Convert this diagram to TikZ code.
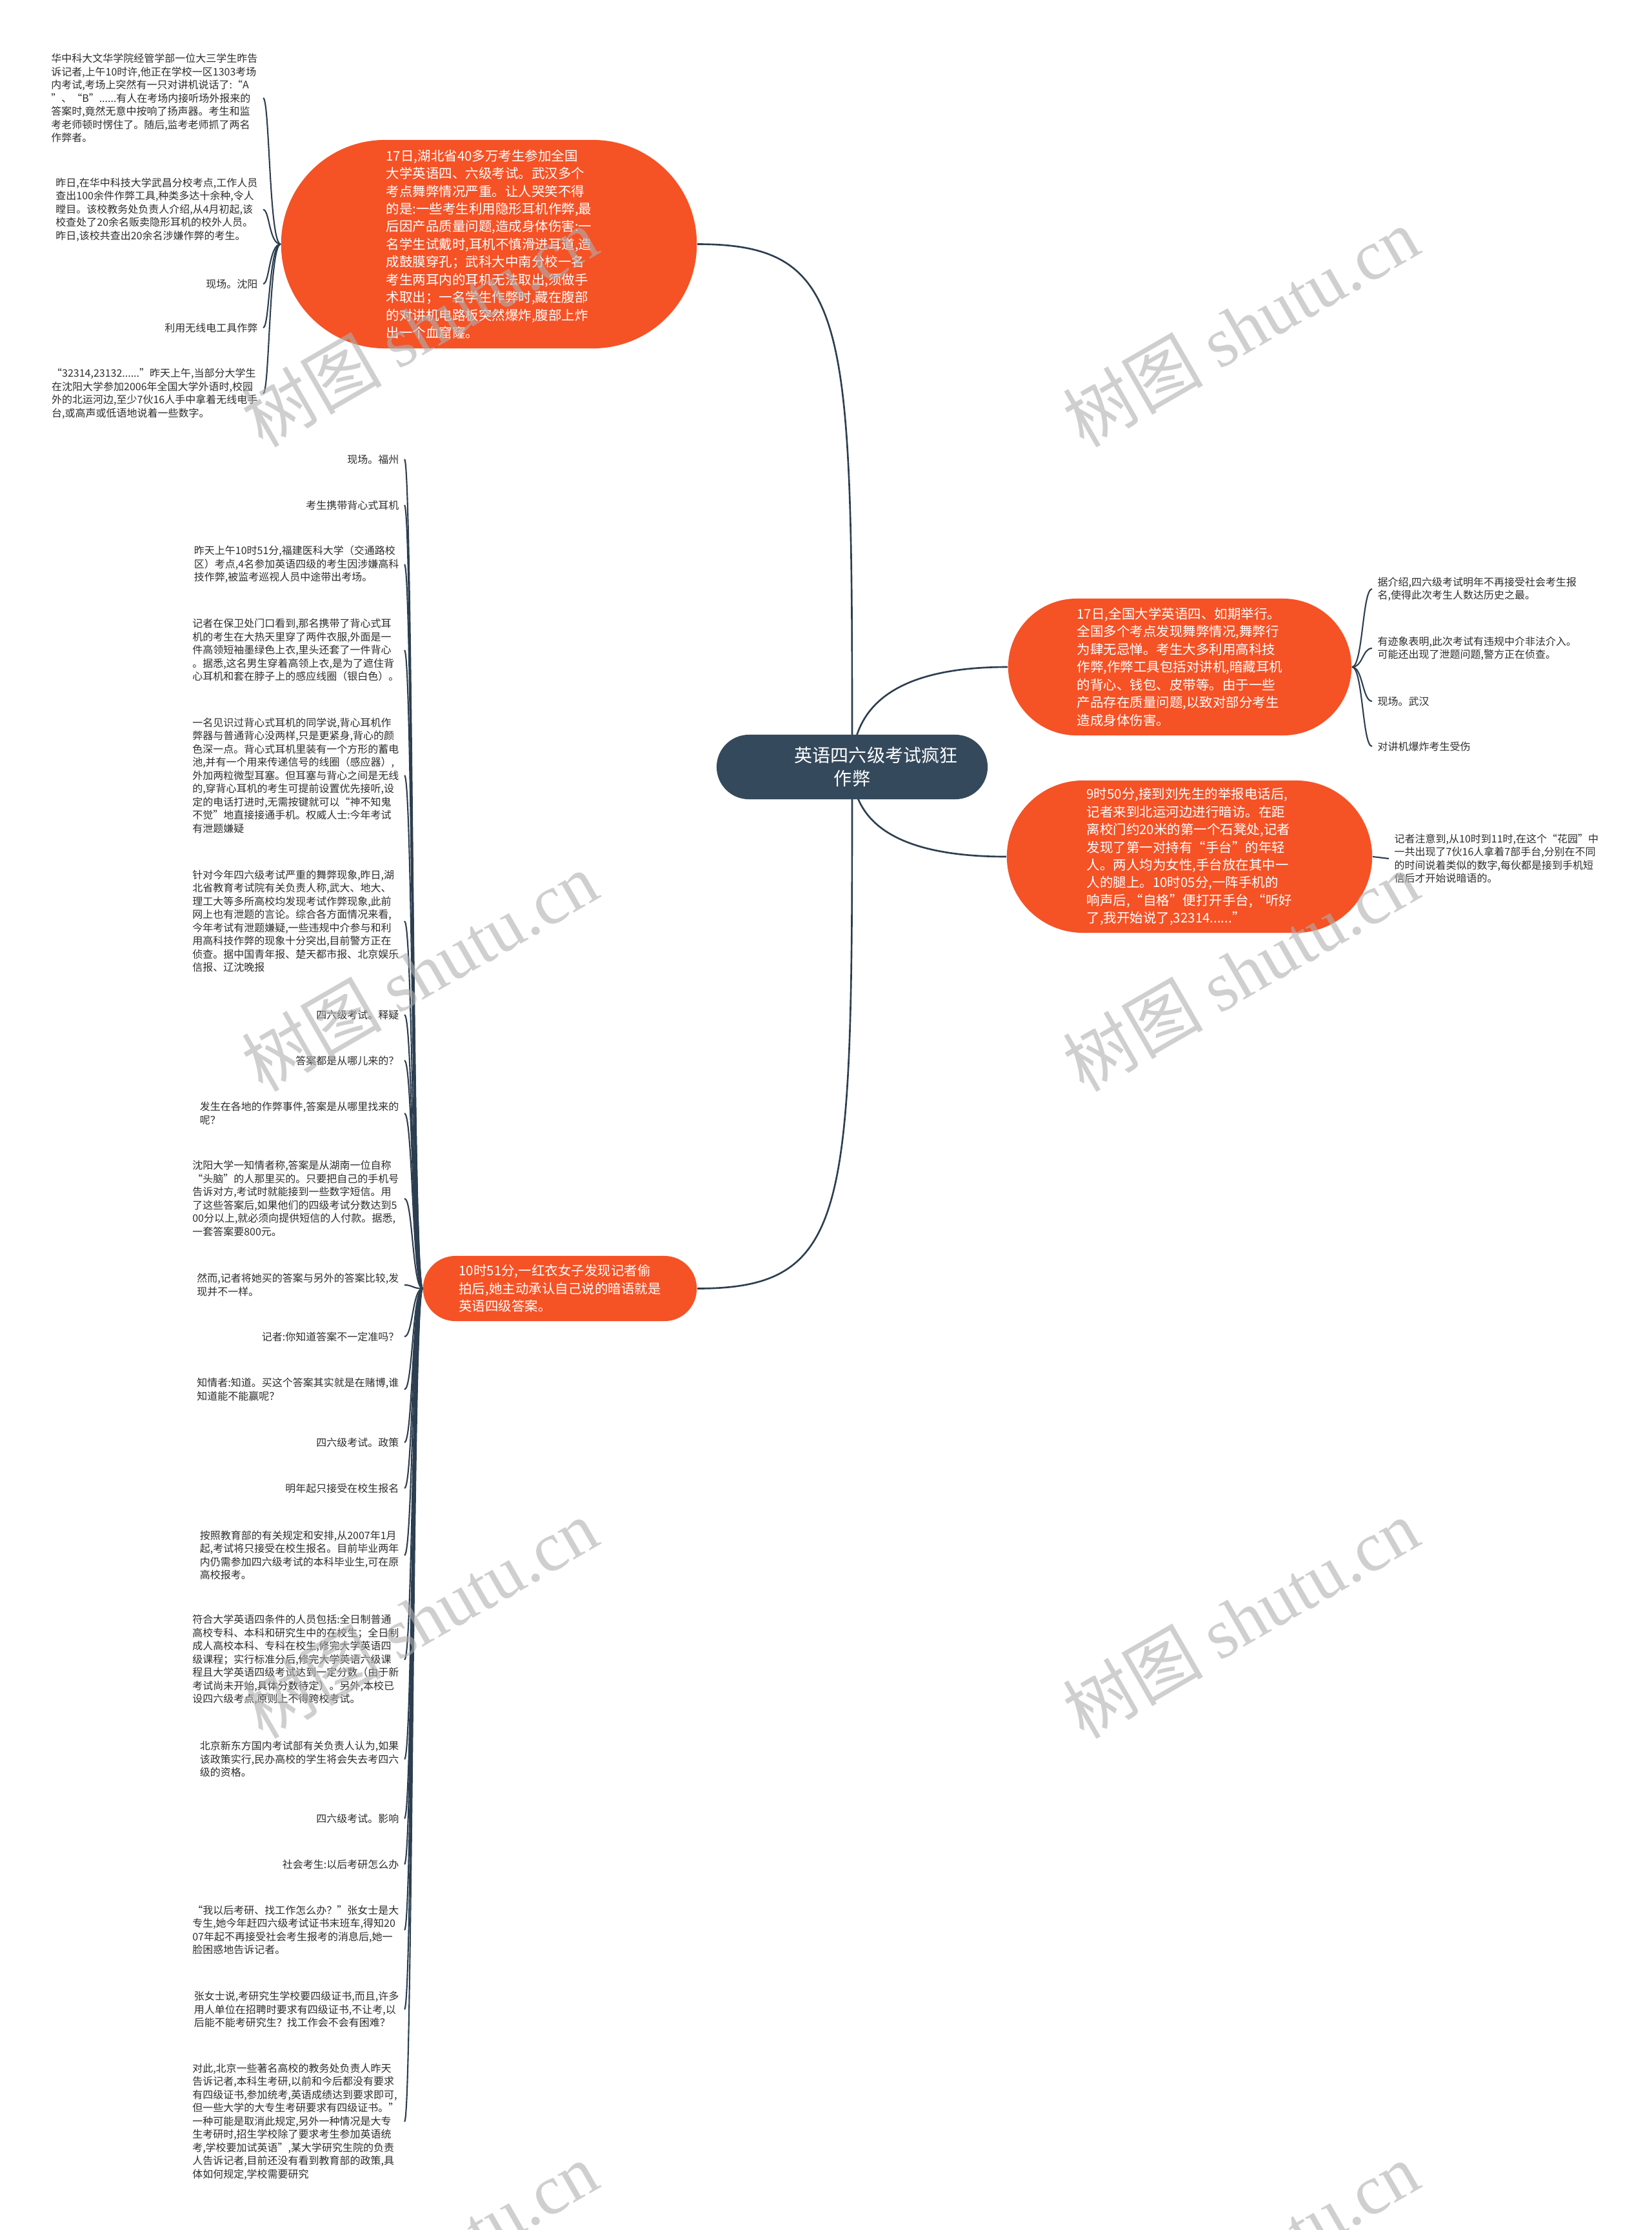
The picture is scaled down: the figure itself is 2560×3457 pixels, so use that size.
\documentclass[tikz,border=0pt]{standalone}
\usepackage{fontspec}
\setmainfont{Noto Sans CJK SC}
\newfontfamily\wmserif{Liberation Serif}
\usetikzlibrary{calc}
\pgfdeclarelayer{background}
\pgfsetlayers{background,main}
\definecolor{orgC}{RGB}{245,82,38}
\definecolor{ctrC}{RGB}{53,73,92}
\definecolor{lineC}{RGB}{44,62,80}
\definecolor{txtC}{RGB}{45,45,45}
\definecolor{wmC}{RGB}{175,175,175}
\newcommand\leaffont{\fontsize{4.55pt}{5.83pt}\selectfont}
\newcommand\orgfont{\fontsize{5.83pt}{7.8pt}\selectfont}
\newcommand\ctrfont{\fontsize{7.97pt}{10.16pt}\selectfont}
\newcommand\wmfont{\fontsize{31pt}{31pt}\selectfont}
\begin{document}
\begin{tikzpicture}[x=0.01cm,y=-0.01cm,
  mainline/.style={draw=lineC,line width=0.75pt},
  subline/.style={draw=lineC,line width=0.6pt},
  orangebox/.style={fill=orgC,text=white,align=left,inner sep=0pt,font=\orgfont},
  centerbox/.style={fill=ctrC,text=white,align=center,inner sep=0pt,font=\ctrfont,
    minimum width=4.2cm,minimum height=1cm,rounded corners=0.5cm},
  leafL/.style={anchor=east,align=left,inner xsep=0.08cm,inner ysep=0pt,font=\leaffont,text=txtC},
  leafR/.style={anchor=west,align=left,inner xsep=0.08cm,inner ysep=0pt,font=\leaffont,text=txtC},
  wmark/.style={rotate=30,text=wmC,text opacity=0.6,font=\wmfont,inner sep=0pt}]
\useasboundingbox (0,0) rectangle (2560,3457);
\begin{pgfonlayer}{background}
\fill[white] (0,0) rectangle (2560,3457);
\end{pgfonlayer}

% ---------- main nodes ----------
\node[centerbox] (C) at (1321,1189) {\hspace*{0.74cm}英语四六级考试疯狂\\作弊};
\node[orangebox,minimum width=6.44cm,minimum height=3.23cm,rounded corners=1.61cm] (T1) at (758,378.5)
 {17日,湖北省40多万考生参加全国\\大学英语四、六级考试。武汉多个\\考点舞弊情况严重。让人哭笑不得\\的是:一些考生利用隐形耳机作弊,最\\后因产品质量问题,造成身体伤害:一\\名学生试戴时,耳机不慎滑进耳道,造\\成鼓膜穿孔；武科大中南分校一名\\考生两耳内的耳机无法取出,须做手\\术取出；一名学生作弊时,藏在腹部\\的对讲机电路板突然爆炸,腹部上炸\\出一个血窟窿。};
\node[orangebox,minimum width=5.32cm,minimum height=2.12cm,rounded corners=1.06cm] (R1) at (1829,1034)
 {17日,全国大学英语四、如期举行。\\全国多个考点发现舞弊情况,舞弊行\\为肆无忌惮。考生大多利用高科技\\作弊,作弊工具包括对讲机,暗藏耳机\\的背心、钱包、皮带等。由于一些\\产品存在质量问题,以致对部分考生\\造成身体伤害。};
\node[orangebox,minimum width=5.66cm,minimum height=2.36cm,rounded corners=1.18cm] (R2) at (1844,1328)
 {9时50分,接到刘先生的举报电话后,\\记者来到北运河边进行暗访。在距\\离校门约20米的第一个石凳处,记者\\发现了第一对持有“手台”的年轻\\人。两人均为女性,手台放在其中一\\人的腿上。10时05分,一阵手机的\\响声后,“自格”便打开手台,“听好\\了,我开始说了,32314......”};
\node[orangebox,minimum width=4.24cm,minimum height=1.01cm,rounded corners=0.5cm] (B1) at (868,1997.5)
 {10时51分,一红衣女子发现记者偷\\拍后,她主动承认自己说的暗语就是\\英语四级答案。};

% ---------- top-left leaves ----------
\node[leafL] (tl1) at (408,152) {华中科大文华学院经管学部一位大三学生昨告\\诉记者,上午10时许,他正在学校一区1303考场\\内考试,考场上突然有一只对讲机说话了:“A\\”、“B”......有人在考场内接听场外报来的\\答案时,竟然无意中按响了扬声器。考生和监\\考老师顿时愣住了。随后,监考老师抓了两名\\作弊者。};
\node[leafL] (tl2) at (408,325) {昨日,在华中科技大学武昌分校考点,工作人员\\查出100余件作弊工具,种类多达十余种,令人\\瞠目。该校教务处负责人介绍,从4月初起,该\\校查处了20余名贩卖隐形耳机的校外人员。\\昨日,该校共查出20余名涉嫌作弊的考生。};
\node[leafL] (tl3) at (408,440) {现场。沈阳};
\node[leafL] (tl4) at (408,508) {利用无线电工具作弊};
\node[leafL] (tl5) at (408,610) {“32314,23132......”昨天上午,当部分大学生\\在沈阳大学参加2006年全国大学外语时,校园\\外的北运河边,至少7伙16人手中拿着无线电手\\台,或高声或低语地说着一些数字。};

% ---------- left column leaves ----------
\node[leafL] (b1) at (627,712) {现场。福州};
\node[leafL] (b2) at (627,783) {考生携带背心式耳机};
\node[leafL] (b3) at (627,875) {昨天上午10时51分,福建医科大学（交通路校\\区）考点,4名参加英语四级的考生因涉嫌高科\\技作弊,被监考巡视人员中途带出考场。};
\node[leafL] (b4) at (627,1008) {记者在保卫处门口看到,那名携带了背心式耳\\机的考生在大热天里穿了两件衣服,外面是一\\件高领短袖墨绿色上衣,里头还套了一件背心\\。据悉,这名男生穿着高领上衣,是为了遮住背\\心耳机和套在脖子上的感应线圈（银白色）。};
\node[leafL] (b5) at (627,1202) {一名见识过背心式耳机的同学说,背心耳机作\\弊器与普通背心没两样,只是更紧身,背心的颜\\色深一点。背心式耳机里装有一个方形的蓄电\\池,并有一个用来传递信号的线圈（感应器）,\\外加两粒微型耳塞。但耳塞与背心之间是无线\\的,穿背心耳机的考生可提前设置优先接听,设\\定的电话打进时,无需按键就可以“神不知鬼\\不觉”地直接接通手机。权威人士:今年考试\\有泄题嫌疑};
\node[leafL] (b6) at (627,1428) {针对今年四六级考试严重的舞弊现象,昨日,湖\\北省教育考试院有关负责人称,武大、地大、\\理工大等多所高校均发现考试作弊现象,此前\\网上也有泄题的言论。综合各方面情况来看,\\今年考试有泄题嫌疑,一些违规中介参与和利\\用高科技作弊的现象十分突出,目前警方正在\\侦查。据中国青年报、楚天都市报、北京娱乐\\信报、辽沈晚报};
\node[leafL] (b7) at (627,1573) {四六级考试。释疑};
\node[leafL] (b8) at (627,1644) {答案都是从哪儿来的？};
\node[leafL] (b9) at (627,1726) {发生在各地的作弊事件,答案是从哪里找来的\\呢？};
\node[leafL] (b10) at (627,1858) {沈阳大学一知情者称,答案是从湖南一位自称\\“头脑”的人那里买的。只要把自己的手机号\\告诉对方,考试时就能接到一些数字短信。用\\了这些答案后,如果他们的四级考试分数达到5\\00分以上,就必须向提供短信的人付款。据悉,\\一套答案要800元。};
\node[leafL] (b11) at (627,1992) {然而,记者将她买的答案与另外的答案比较,发\\现并不一样。};
\node[leafL] (b12) at (627,2072) {记者:你知道答案不一定准吗？};
\node[leafL] (b13) at (627,2154) {知情者:知道。买这个答案其实就是在赌博,谁\\知道能不能赢呢？};
\node[leafL] (b14) at (627,2236) {四六级考试。政策};
\node[leafL] (b15) at (627,2307) {明年起只接受在校生报名};
\node[leafL] (b16) at (627,2411) {按照教育部的有关规定和安排,从2007年1月\\起,考试将只接受在校生报名。目前毕业两年\\内仍需参加四六级考试的本科毕业生,可在原\\高校报考。};
\node[leafL] (b17) at (627,2573) {符合大学英语四条件的人员包括:全日制普通\\高校专科、本科和研究生中的在校生；全日制\\成人高校本科、专科在校生,修完大学英语四\\级课程；实行标准分后,修完大学英语六级课\\程且大学英语四级考试达到一定分数（由于新\\考试尚未开始,具体分数待定）。另外,本校已\\设四六级考点,原则上不得跨校考试。};
\node[leafL] (b18) at (627,2727) {北京新东方国内考试部有关负责人认为,如果\\该政策实行,民办高校的学生将会失去考四六\\级的资格。};
\node[leafL] (b19) at (627,2819) {四六级考试。影响};
\node[leafL] (b20) at (627,2890) {社会考生:以后考研怎么办};
\node[leafL] (b21) at (627,2992) {“我以后考研、找工作怎么办？”张女士是大\\专生,她今年赶四六级考试证书末班车,得知20\\07年起不再接受社会考生报考的消息后,她一\\脸困惑地告诉记者。};
\node[leafL] (b22) at (627,3115) {张女士说,考研究生学校要四级证书,而且,许多\\用人单位在招聘时要求有四级证书,不让考,以\\后能不能考研究生？找工作会不会有困难？};
\node[leafL] (b23) at (627,3289) {对此,北京一些著名高校的教务处负责人昨天\\告诉记者,本科生考研,以前和今后都没有要求\\有四级证书,参加统考,英语成绩达到要求即可,\\但一些大学的大专生考研要求有四级证书。”\\一种可能是取消此规定,另外一种情况是大专\\生考研时,招生学校除了要求考生参加英语统\\考,学校要加试英语”,某大学研究生院的负责\\人告诉记者,目前还没有看到教育部的政策,具\\体如何规定,学校需要研究};

% ---------- right leaves ----------
\node[leafR] (r1) at (2127,913) {据介绍,四六级考试明年不再接受社会考生报\\名,使得此次考生人数达历史之最。};
\node[leafR] (r2) at (2127,1005) {有迹象表明,此次考试有违规中介非法介入。\\可能还出现了泄题问题,警方正在侦查。};
\node[leafR] (r3) at (2127,1087) {现场。武汉};
\node[leafR] (r4) at (2127,1157) {对讲机爆炸考生受伤};
\node[leafR] (r5) at (2153,1331) {记者注意到,从10时到11时,在这个“花园”中\\一共出现了7伙16人拿着7部手台,分别在不同\\的时间说着类似的数字,每伙都是接到手机短\\信后才开始说暗语的。};

% ---------- connectors (behind nodes) ----------
\begin{pgfonlayer}{background}
\path[mainline] (C.center) .. controls ($(C.center |- T1.east)!0.15!(C.center)$) and (C.center |- T1.east) .. (T1.east);
\path[mainline] (C.center) .. controls ($(C.center |- B1.east)!0.15!(C.center)$) and (C.center |- B1.east) .. (B1.east);
\path[mainline] (C.center) .. controls ($(C.center)!0.667!(C.center |- R1.west)$) and ($(R1.west)!0.667!(C.center |- R1.west)$) .. (R1.west);
\path[mainline] (C.center) .. controls ($(C.center)!0.667!(C.center |- R2.west)$) and ($(R2.west)!0.667!(C.center |- R2.west)$) .. (R2.west);
\foreach \n in {tl1,tl2,tl3,tl4,tl5}
  \path[subline] (T1.west) .. controls ([xshift=-0.18cm]T1.west) and ([xshift=0.10cm]\n.east) .. (\n.east);
\foreach \n in {b1,b2,b3,b4,b5,b6,b7,b8,b9,b10,b11,b12,b13,b14,b15,b16,b17,b18,b19,b20,b21,b22,b23}
  \path[subline] (B1.west) .. controls ([xshift=-0.16cm]B1.west) and ([xshift=0.13cm]\n.east) .. (\n.east);
\foreach \n in {r1,r2,r3,r4}
  \path[subline] (R1.east) .. controls ([xshift=0.17cm]R1.east) and ([xshift=-0.15cm]\n.west) .. (\n.west);
\path[subline] (R2.east) -- (r5.west);
\end{pgfonlayer}

% ---------- watermarks ----------
\node[wmark] (wm1) at (650,507) {树图 {\wmserif shutu.cn}};
\node[wmark] (wm2) at (1923,507) {树图 {\wmserif shutu.cn}};
\node[wmark] (wm3) at (650,1506) {树图 {\wmserif shutu.cn}};
\node[wmark] (wm4) at (1923,1506) {树图 {\wmserif shutu.cn}};
\node[wmark] (wm5) at (650,2509) {树图 {\wmserif shutu.cn}};
\node[wmark] (wm6) at (1923,2509) {树图 {\wmserif shutu.cn}};
\node[wmark] (wm7) at (650,3506) {树图 {\wmserif shutu.cn}};
\node[wmark] (wm8) at (1923,3506) {树图 {\wmserif shutu.cn}};
\end{tikzpicture}
\end{document}
